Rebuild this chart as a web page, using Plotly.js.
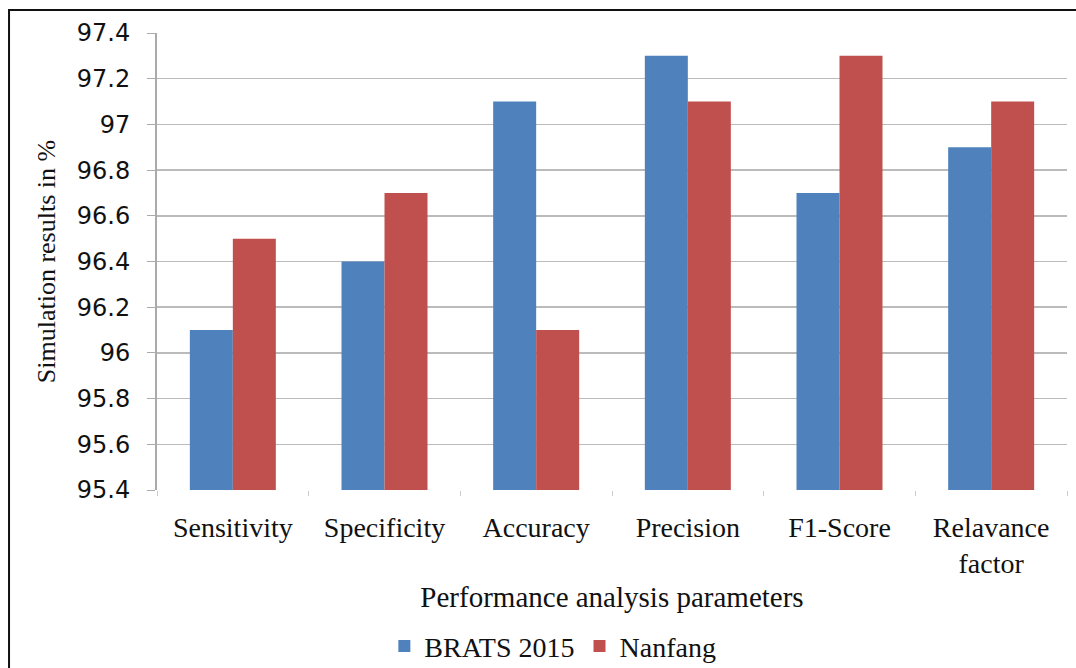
<!DOCTYPE html>
<html>
<head>
<meta charset="utf-8">
<script src="https://cdn.plot.ly/plotly-3.0.1.min.js"></script>
<style>html,body{margin:0;padding:0;background:#fff;}#chart{width:1076px;height:668px;}</style>
</head>
<body>
<div id="chart"></div>
<script>
var categories = ["Sensitivity", "Specificity", "Accuracy", "Precision", "F1-Score", "Relavance<br>factor"];
var brats2015 = [96.1, 96.4, 97.1, 97.3, 96.7, 96.9];
var nanfang = [96.5, 96.7, 96.1, 97.1, 97.3, 97.1];
var yTicks = [95.4, 95.6, 95.8, 96, 96.2, 96.4, 96.6, 96.8, 97, 97.2, 97.4];
var yTickText = ["95.4", "95.6", "95.8", "96", "96.2", "96.4", "96.6", "96.8", "97", "97.2", "97.4"];

var serif = "Liberation Serif, Times New Roman, serif";
var traces = [
  {type: "bar", name: "BRATS 2015", x: categories, y: brats2015, marker: {color: "#4F81BD"}},
  {type: "bar", name: "Nanfang", x: categories, y: nanfang, marker: {color: "#C0504D"}}
];
var layout = {
  width: 1076, height: 668,
  margin: {l: 157, r: 9, t: 33, b: 178, autoexpand: false},
  paper_bgcolor: "#fff", plot_bgcolor: "#fff",
  barmode: "group", bargap: 0.433, bargroupgap: 0,
  showlegend: true,
  legend: {orientation: "h", x: 0.435, xanchor: "center", y: -0.342, yanchor: "middle",
           font: {family: serif, size: 28, color: "#111"}, itemwidth: 30, tracegroupgap: 0},
  xaxis: {
    type: "category", tickson: "boundaries", ticks: "outside", ticklen: 5, tickcolor: "#ccc",
    showline: false, showgrid: false, ticklabelstandoff: 18, automargin: false,
    tickfont: {family: serif, size: 28, color: "#111"},
    title: {text: "Performance analysis parameters", font: {family: serif, size: 29, color: "#111"}, standoff: 8}
  },
  yaxis: {
    range: [95.4, 97.4], tickvals: yTicks, ticktext: yTickText, automargin: false,
    ticks: "outside", ticklen: 8, tickcolor: "#aaa",
    showline: true, linecolor: "#aaa", linewidth: 2,
    showgrid: true, gridcolor: "#bbb", gridwidth: 1.5, zeroline: false,
    ticklabelstandoff: 12,
    tickfont: {family: "DejaVu Sans, Verdana, sans-serif", size: 24, color: "#111"},
    title: {text: "Simulation results in %", font: {family: serif, size: 26, color: "#111"}, standoff: 14}
  },
  shapes: [
    {type: "rect", xref: "paper", yref: "paper", x0: -0.1626, x1: 1.02, y0: -0.4, y1: 1.0503,
     line: {color: "#111", width: 2}, fillcolor: "rgba(0,0,0,0)", layer: "above"}
  ]
};
Plotly.newPlot("chart", traces, layout, {displayModeBar: false, staticPlot: true});
</script>
</body>
</html>
